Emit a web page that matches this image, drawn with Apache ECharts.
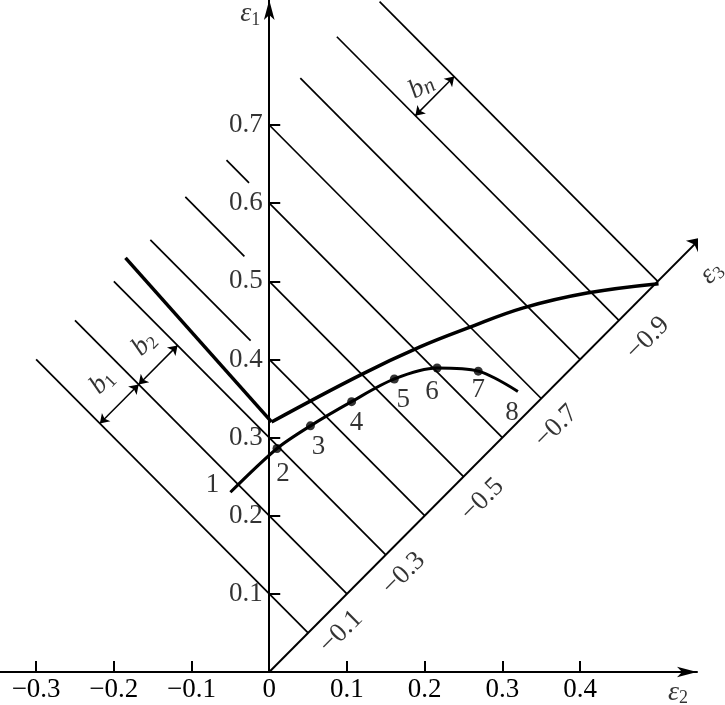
<!DOCTYPE html>
<html>
<head>
<meta charset="utf-8">
<style>
  html, body { margin: 0; padding: 0; background: #fff; }
  #chart { width: 725px; height: 705px; }
</style>
<script src="https://cdn.jsdelivr.net/npm/echarts@6/dist/echarts.min.js"></script>
</head>
<body>
<div id="chart"></div>
<script>
// axis ticks
const xTicks = [-0.3, -0.2, -0.1, 0, 0.1, 0.2, 0.3, 0.4]
const yTicks = [0.1, 0.2, 0.3, 0.4, 0.5, 0.6, 0.7]
const e3Ticks = [0.1, 0.3, 0.5, 0.7, 0.9] // shown as negative eps3
const e3End = 0.556

// lines of constant eps3: eps1 + eps2 = level, from startX to the eps3 axis
const levels = [0.1, 0.2, 0.3, 0.4, 0.5, 0.6, 0.7, 0.8, 0.9, 1.0]
const levelStartX = [-0.3, -0.25, -0.2, 0, 0, 0, 0, 0.04, 0.087, 0.142]
// short pieces left of the eps1 axis
const stubLevels = [0.4, 0.5, 0.6]
const stubStartX = [-0.153, -0.108, -0.055]
const stubEndX = [-0.024, -0.032, -0.026]

// thick limit line
const limitLeft = [[-0.185, 0.53], [0.003, 0.32]]
const limitCurve = [[0.003, 0.32], [0.117, 0.38], [0.194, 0.416], [0.255, 0.44], [0.327, 0.466], [0.409, 0.485], [0.501, 0.497]]

// strain path 1..8
const pathPoints = [[-0.05, 0.23], [0.01, 0.286], [0.053, 0.315], [0.106, 0.346], [0.161, 0.375], [0.216, 0.389], [0.269, 0.385], [0.32, 0.359]]
const pathLabels = ['1', '2', '3', '4', '5', '6', '7', '8']

// band widths b1, b2, bn
const widthNames = ['1', '2', 'n']
const widthArrows = [
  [[-0.218, 0.318], [-0.168, 0.368]],
  [[-0.168, 0.368], [-0.118, 0.418]],
  [[0.188, 0.712], [0.238, 0.762]]
]
const widthLabelAt = [[-0.215, 0.371], [-0.161, 0.42], [0.196, 0.749]]

// layout tweaks (screen pixels)
const pathLabelOffset = [[-18, -7], [6, 25], [8, 21], [5, 21], [9, 21], [-5, 24], [0, 19], [-6, 21]]
const e3LabelOffset = [[33, -1], [18, 19], [19, 23], [15, 28], [29, 18]]
const widthLabelRotate = [45, 45, 30]

const FONT = 'Liberation Serif'
const INK = '#000'
const hidden = { color: 'rgba(0,0,0,0)' }

const fmt = (v) => (v === 0 ? '0' : (v < 0 ? '\u2212' : '') + Math.abs(v).toFixed(1))

// label offset is applied in the rotated frame, so turn a screen offset into it
function localOffset(off, deg) {
  const a = (deg * Math.PI) / 180
  return [Math.cos(a) * off[0] - Math.sin(a) * off[1], Math.sin(a) * off[0] + Math.cos(a) * off[1]]
}

const levelLines = levels.map((c, i) => ({ coords: [[levelStartX[i], c - levelStartX[i]], [c / 2, c / 2]] }))
const stubLines = stubLevels.map((c, i) => ({ coords: [[stubStartX[i], c - stubStartX[i]], [stubEndX[i], c - stubEndX[i]]] }))

const rich = {
  e: { fontFamily: FONT, fontStyle: 'italic', fontSize: 28, color: INK, lineHeight: 30 },
  b: { fontFamily: FONT, fontStyle: 'italic', fontSize: 27, color: INK, lineHeight: 30 },
  s: { fontFamily: FONT, fontSize: 18, color: INK, verticalAlign: 'bottom', lineHeight: 30 },
  n: { fontFamily: FONT, fontStyle: 'italic', fontSize: 22, color: INK, verticalAlign: 'bottom', lineHeight: 30 }
}

const textPoint = (pos, text, extra) => ({
  value: pos,
  label: Object.assign({ show: true, position: 'inside', formatter: text, rich }, extra || {})
})

const chart = echarts.init(document.getElementById('chart'))
chart.setOption({
  backgroundColor: '#fff',
  animation: false,
  grid: { left: 0, right: 28, top: 0, bottom: 33, containLabel: false, outerBoundsMode: 'none' },
  xAxis: {
    type: 'value',
    min: -0.3465,
    max: 0.5505,
    axisLine: { onZero: true, symbol: ['none', 'arrow'], symbolSize: [8, 20], lineStyle: { color: INK, width: 2 } },
    axisTick: { show: true, inside: true, length: 11, customValues: xTicks.filter((v) => v !== 0), lineStyle: { color: INK, width: 2 } },
    axisLabel: { customValues: xTicks, formatter: fmt, fontFamily: FONT, fontSize: 27, color: INK, margin: 4 },
    splitLine: { show: false }
  },
  yAxis: {
    type: 'value',
    min: 0,
    max: 0.86,
    axisLine: { onZero: true, symbol: ['none', 'arrow'], symbolSize: [8, 20], lineStyle: { color: INK, width: 2 } },
    axisTick: { show: true, inside: true, length: 11, customValues: yTicks, lineStyle: { color: INK, width: 2 } },
    axisLabel: { show: false },
    splitLine: { show: false }
  },
  series: [
    {
      type: 'lines',
      coordinateSystem: 'cartesian2d',
      silent: true,
      lineStyle: { color: INK, width: 1.7, opacity: 1 },
      data: levelLines.concat(stubLines)
    },
    {
      // eps3 axis
      type: 'lines',
      coordinateSystem: 'cartesian2d',
      silent: true,
      symbol: ['none', 'arrow'],
      symbolSize: 13,
      lineStyle: { color: INK, width: 2, opacity: 1 },
      data: [{ coords: [[0, 0], [e3End, e3End]] }]
    },
    {
      type: 'lines',
      coordinateSystem: 'cartesian2d',
      silent: true,
      symbol: ['arrow', 'arrow'],
      symbolSize: 9,
      lineStyle: { color: INK, width: 1.5, opacity: 1 },
      data: widthArrows.map((c) => ({ coords: c }))
    },
    {
      type: 'line',
      data: limitLeft,
      showSymbol: false,
      lineStyle: { color: INK, width: 3.5 }
    },
    {
      type: 'line',
      data: limitCurve,
      smooth: 0.4,
      showSymbol: false,
      lineStyle: { color: INK, width: 3.5 }
    },
    {
      type: 'line',
      data: pathPoints,
      smooth: 0.3,
      showSymbol: false,
      lineStyle: { color: INK, width: 3 }
    },
    {
      type: 'scatter',
      clip: false,
      silent: true,
      itemStyle: { color: INK },
      data: pathPoints.map((p, i) => ({
        value: p,
        symbolSize: i === 0 || i === pathPoints.length - 1 ? 0.1 : 9,
        label: {
          show: true,
          position: 'inside',
          formatter: pathLabels[i],
          offset: pathLabelOffset[i],
          fontFamily: FONT,
          fontSize: 27,
          color: INK
        }
      }))
    },
    {
      // eps1 tick labels, left of the axis at x = 0
      type: 'scatter',
      clip: false,
      silent: true,
      symbolSize: 1,
      itemStyle: hidden,
      data: yTicks.map((v) => ({
        value: [0, v],
        label: { show: true, position: 'left', distance: 6, formatter: fmt(v), fontFamily: FONT, fontSize: 27, color: INK }
      }))
    },
    {
      // eps3 tick labels
      type: 'scatter',
      clip: false,
      silent: true,
      symbolSize: 1,
      itemStyle: hidden,
      data: e3Ticks.map((c, i) => ({
        value: [c / 2, c / 2],
        label: {
          show: true,
          position: 'inside',
          formatter: fmt(-c),
          rotate: 45,
          offset: localOffset(e3LabelOffset[i], 45),
          fontFamily: FONT,
          fontSize: 27,
          color: INK
        }
      }))
    },
    {
      // names: eps1, eps2, eps3, b1, b2, bn
      type: 'scatter',
      clip: false,
      silent: true,
      symbolSize: 1,
      itemStyle: hidden,
      data: [
        textPoint([-0.0245, 0.842], '{e|\u03b5}{s|1}'),
        textPoint([0.526, -0.026], '{e|\u03b5}{s|2}'),
        textPoint([0.569, 0.511], '{e|\u03b5}{s|3}', { rotate: 45 }),
        ...widthNames.map((n, i) =>
          textPoint(widthLabelAt[i], n === 'n' ? '{b|b}{n|n}' : '{b|b}{s|' + n + '}', { rotate: widthLabelRotate[i] })
        )
      ]
    }
  ]
})
</script>
</body>
</html>
